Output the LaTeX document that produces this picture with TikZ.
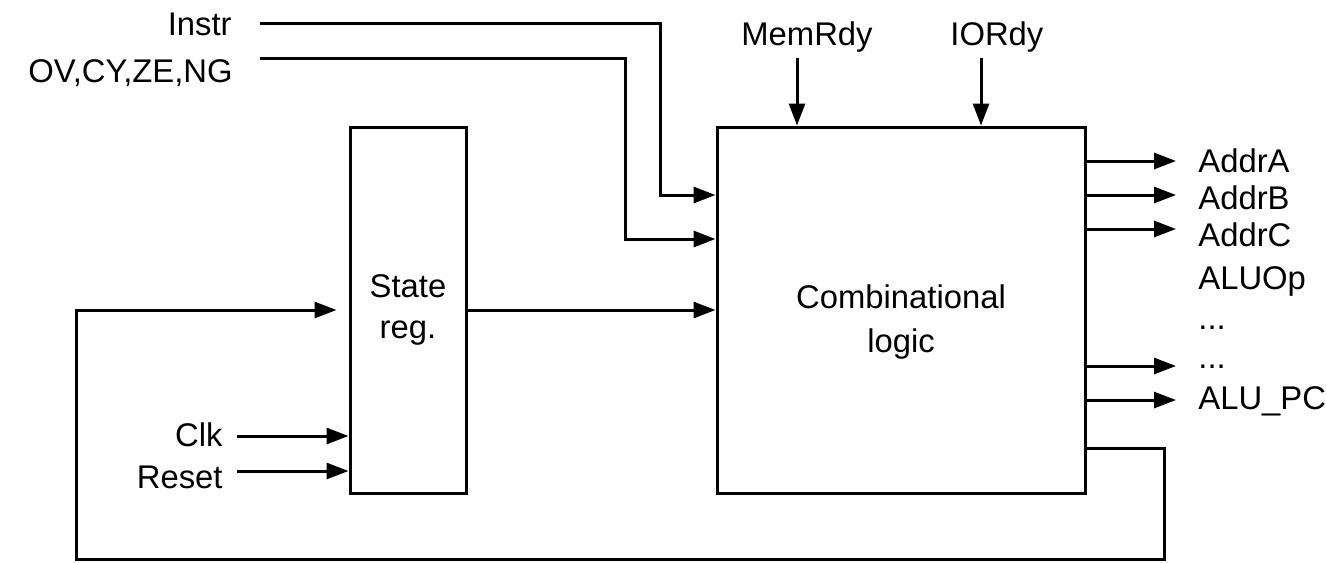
\documentclass[tikz,border=0pt]{standalone}
\usepackage{fontspec}
\setmainfont{Liberation Sans}
\usepackage{tikz}
\usetikzlibrary{arrows.meta}

\begin{document}
\begin{tikzpicture}[
  x=0.5pt,y=-0.5pt,
  font=\fontsize{16.4}{20.5}\selectfont,
  block/.style={draw,line width=1.5pt,align=center,minimum height=183pt,inner sep=0pt},
  sig/.style={inner sep=0pt},
  arr/.style={-{Triangle[length=11pt,width=8pt]},line width=1.5pt}
]
\useasboundingbox (0,0) rectangle (1326,562);
\node[block,minimum width=58pt] (state) at (408,310) {State\\reg.};
\node[block,minimum width=184pt,font=\fontsize{16.4}{22}\selectfont] (comb) at (901,310)
  {\rule{0pt}{23.5pt}Combinational\\logic};
\node[sig,anchor=base east] (instr) at (232,35) {Instr};
\node[sig,anchor=base east] (flags) at (233,82) {OV,CY,ZE,NG};
\node[sig,anchor=base west] (memrdy) at (741,45) {MemRdy};
\node[sig,anchor=base west] (iordy) at (950,45) {IORdy};
\node[sig,anchor=base east] (clk) at (223,446) {Clk};
\node[sig,anchor=base east] (reset) at (223,488) {Reset};
\node[sig,anchor=base west] (addra) at (1198,172) {AddrA};
\node[sig,anchor=base west] (addrb) at (1198,209) {AddrB};
\node[sig,anchor=base west] (addrc) at (1198,246) {AddrC};
\node[sig,anchor=base west] (aluop) at (1198,289) {ALUOp};
\node[sig,anchor=base west] (dotsa) at (1198,329) {...};
\node[sig,anchor=base west] (dotsb) at (1198,368) {...};
\node[sig,anchor=base west] (alupc) at (1198,409) {ALU\_PC};
\coordinate (instrS) at (260,23);
\coordinate (instrK) at (660,195);
\coordinate (flagsS) at (260,58);
\coordinate (flagsK) at (625,239);
\coordinate (memS) at (797,58);
\coordinate (ioS) at (981,58);
\coordinate (clkS) at (237,436);
\coordinate (rstS) at (237,471);
\coordinate (oa) at (1176,161);
\coordinate (ob) at (1176,195);
\coordinate (oc) at (1176,229);
\coordinate (od) at (1176,366);
\coordinate (oe) at (1176,400);
\coordinate (fbR) at (1164,448);
\coordinate (fbL) at (76,559);
\draw[arr] (instrS) -| (instrK) -- (instrK -| comb.west);
\draw[arr] (flagsS) -| (flagsK) -- (flagsK -| comb.west);
\draw[arr] (memS) -- (memS |- comb.north);
\draw[arr] (ioS) -- (ioS |- comb.north);
\draw[arr] (state) -- (comb);
\draw[arr] (clkS) -- (clkS -| state.west);
\draw[arr] (rstS) -- (rstS -| state.west);
\draw[arr] (oa -| comb.east) -- (oa);
\draw[arr] (ob -| comb.east) -- (ob);
\draw[arr] (oc -| comb.east) -- (oc);
\draw[arr] (od -| comb.east) -- (od);
\draw[arr] (oe -| comb.east) -- (oe);
\draw[arr] (fbR -| comb.east) -- (fbR) |- (fbL) |- ([xshift=-6pt]state.west);
\end{tikzpicture}
\end{document}
